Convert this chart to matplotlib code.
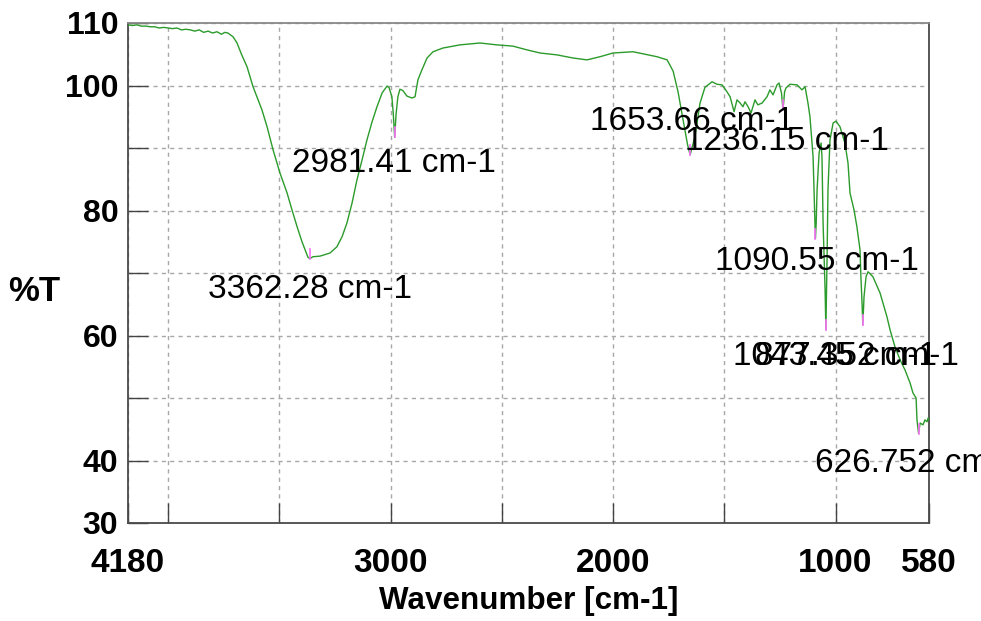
import matplotlib
matplotlib.use('Agg')
import matplotlib.pyplot as plt

plt.rcParams['font.family'] = ['Liberation Sans', 'DejaVu Sans']

# spectrum, high -> low wavenumber
wavenumber = [4180, 4160, 4140, 4120, 4100, 4080, 4060, 4040, 4020, 4000,
              3980, 3960, 3940, 3920, 3900, 3880, 3860, 3840, 3820, 3800,
              3780, 3760, 3745, 3731, 3708, 3690, 3670, 3645, 3618, 3578,
              3555, 3528, 3497, 3465, 3443, 3420, 3398, 3384, 3371, 3362.28,
              3349, 3317, 3272, 3241, 3218, 3196, 3173, 3151, 3128, 3106,
              3083, 3061, 3038, 3016, 3007, 2994, 2988, 2981.41, 2975, 2967,
              2958, 2945, 2926, 2904, 2890, 2877, 2859, 2836, 2809, 2764,
              2688, 2598, 2522, 2450, 2387, 2328, 2252, 2180, 2117, 2059,
              2000, 1910, 1802, 1757, 1730, 1708, 1685, 1665, 1653.66, 1632,
              1609, 1587, 1555, 1533, 1510, 1488, 1474, 1456, 1443, 1429,
              1416, 1407, 1393, 1380, 1362, 1349, 1330, 1308, 1295, 1281,
              1263, 1254, 1243, 1236.15, 1229, 1223, 1205, 1173, 1151, 1137,
              1124, 1115, 1101, 1094, 1090.55, 1087, 1083, 1074, 1065, 1061,
              1056, 1047, 1043.45, 1038, 1034, 1025, 1011, 998, 980, 958,
              944, 935, 917, 904, 890, 886, 881, 877.352, 872, 863,
              854, 832, 800, 769, 755, 733, 710, 688, 665, 652,
              638, 634, 626.752, 620, 607, 598, 589, 584, 580]
transmittance = [109.7, 109.6, 109.7, 109.5, 109.5, 109.4, 109.4, 109.2, 109.3, 109.2,
                 109.1, 109.2, 108.9, 109.0, 108.9, 108.7, 108.9, 108.5, 108.7, 108.4,
                 108.6, 108.2, 108.5, 108.4, 107.8, 106.8, 105.0, 103.0, 99.8, 96.1,
                 93.4, 89.7, 86.0, 82.8, 80.1, 77.4, 75.0, 73.7, 72.5, 72.3,
                 72.6, 72.7, 73.2, 74.2, 75.8, 78.0, 81.2, 84.9, 88.1, 91.3,
                 94.2, 96.6, 98.8, 99.9, 99.7, 98.2, 95.6, 91.7, 95.5, 98.2,
                 99.4, 99.2, 98.3, 98.0, 98.2, 100.9, 102.5, 104.4, 105.4, 106.0,
                 106.5, 106.8, 106.5, 106.3, 105.7, 105.2, 104.9, 104.4, 104.1, 104.6,
                 105.2, 105.4, 104.6, 104.1, 102.3, 99.0, 94.5, 90.5, 88.9, 91.8,
                 97.2, 99.7, 100.6, 100.2, 100.1, 99.0, 98.2, 95.8, 97.7, 97.2,
                 96.6, 97.4, 96.6, 95.6, 97.7, 96.9, 97.2, 98.2, 99.3, 98.5,
                 100.1, 100.4, 98.8, 96.1, 99.0, 99.6, 100.2, 100.1, 99.3, 99.8,
                 97.2, 95.0, 88.6, 80.0, 75.5, 78.0, 83.3, 89.2, 90.8, 88.6,
                 78.0, 67.3, 60.9, 72.6, 83.3, 91.3, 94.0, 94.3, 93.4, 90.8,
                 87.6, 82.8, 80.1, 77.4, 73.7, 69.4, 65.2, 61.7, 66.2, 69.4,
                 70.2, 69.4, 66.8, 63.0, 60.9, 58.2, 56.1, 54.5, 52.4, 50.8,
                 50.0, 46.5, 44.3, 46.0, 45.7, 46.5, 46.2, 46.8, 46.5]

peak_wn = [3362.28, 2981.41, 1653.66, 1236.15, 1090.55, 1043.45, 877.352, 626.752]
peak_t = [72.3, 91.7, 88.9, 96.1, 75.5, 60.9, 61.7, 44.3]
peak_labels = ['3362.28 cm-1', '2981.41 cm-1', '1653.66 cm-1', '1236.15 cm-1',
               '1090.55 cm-1', '1043.45 cm-1', '877.352 cm-1', '626.752 cm-1']
# where the peak labels sit (centre of text)
label_x = [3362, 2984, 1645, 1218, 1083, 1002, 904, 634]
label_y = [67.3, 87.6, 94.3, 91.1, 71.9, 56.6, 56.6, 39.5]

x_ticks = [4180, 4000, 3500, 3000, 2500, 2000, 1500, 1000, 580]
x_tick_labels = ['4180', '', '', '3000', '', '2000', '', '1000', '580']
y_ticks = [30, 40, 50, 60, 70, 80, 90, 100, 110]
y_tick_labels = ['30', '40', '', '60', '', '80', '', '100', '110']

fig = plt.figure(figsize=(9.81, 6.21), dpi=100)
ax = fig.add_axes([128 / 981, 1 - 523 / 621, 801 / 981, 500 / 621])

ax.plot(wavenumber, transmittance, color='#2b9b2b', lw=1.0, zorder=3)
for wn, t in zip(peak_wn, peak_t):
    ax.plot([wn, wn], [t, t + 1.6], color='#ff70ff', lw=1.2, zorder=4)

# labels overlap each other in the original too
for txt, x, y in zip(peak_labels, label_x, label_y):
    ax.text(x, y, txt, ha='center', va='center', fontsize=24, color='black', zorder=5)

ax.set_xlim(4180, 580)
ax.set_ylim(30, 110)
ax.set_xticks(x_ticks)
ax.set_xticklabels(x_tick_labels, fontsize=24, fontweight='bold')
ax.set_yticks(y_ticks)
ax.set_yticklabels(y_tick_labels, fontsize=23, fontweight='bold')
ax.tick_params(axis='x', direction='in', length=14.4, width=1, color='#444444', pad=18)
ax.tick_params(axis='y', direction='in', length=14.4, width=1, color='#444444', pad=7)
ax.grid(True, color='#a8a8a8', lw=1.0, linestyle=(0, (3, 3)))
ax.set_axisbelow(True)

for side in ['left', 'bottom', 'right']:
    ax.spines[side].set_color('#4a4a4a')
    ax.spines[side].set_linewidth(1.3)
ax.spines['top'].set_color('#888888')
ax.spines['top'].set_linewidth(1.3)

ax.set_xlabel('Wavenumber [cm-1]', fontsize=22.6, fontweight='bold', labelpad=5)
fig.text(8 / 981, 1 - 291 / 621, '%T', fontsize=25, fontweight='bold', ha='left', va='center')

fig.savefig('out.png', dpi=100)
